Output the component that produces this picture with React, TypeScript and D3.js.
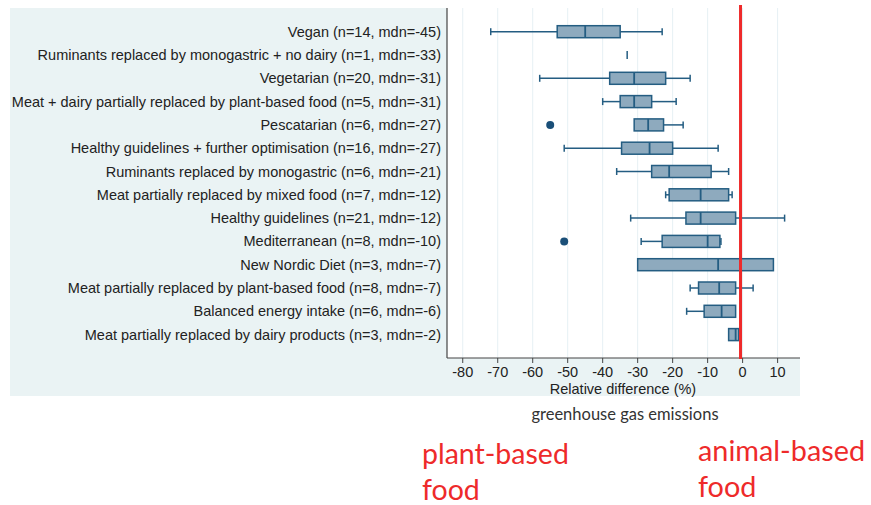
import React from "react";
import * as d3 from "d3";

const categories = [
  "Vegan",
  "Ruminants replaced by monogastric + no dairy",
  "Vegetarian",
  "Meat + dairy partially replaced by plant-based food",
  "Pescatarian",
  "Healthy guidelines + further optimisation",
  "Ruminants replaced by monogastric",
  "Meat partially replaced by mixed food",
  "Healthy guidelines",
  "Mediterranean",
  "New Nordic Diet",
  "Meat partially replaced by plant-based food",
  "Balanced energy intake",
  "Meat partially replaced by dairy products",
];
const nValues = [14, 1, 20, 5, 6, 16, 6, 7, 21, 8, 3, 8, 6, 3];
const mdnValues = [-45, -33, -31, -31, -27, -27, -21, -12, -12, -10, -7, -7, -6, -2];
const whiskerLo = [-72, -33, -58, -40, -31, -51, -36, -22, -32, -29, -30, -15, -16, -4];
const q1Values = [-53, -33, -38, -35, -31, -34.6, -26, -21, -16.2, -23, -30, -12.6, -11, -4];
const medianValues = [-45, -33, -31, -31, -27, -26.6, -21, -12, -12, -10, -7, -6.7, -6, -2];
const q3Values = [-35, -33, -22, -26, -22.6, -20, -9, -4, -2, -6.5, 8.8, -2, -2, -1.1];
const whiskerHi = [-23, -33, -15, -19, -17, -7, -4, -3, 12, -6.2, 8.8, 3, -2, -1.1];
const outlierRows = [4, 9];
const outlierValues = [-55, -51];
const xTicks = [-80, -70, -60, -50, -40, -30, -20, -10, 0, 10];
const refValue = -0.6;

export default function App() {
  const x = d3.scaleLinear().domain([-84.5, 16.4]).range([447, 800]);
  const y = d3.scalePoint<number>().domain(d3.range(categories.length)).range([31.7, 334.6]);
  const boxH = 12;
  const capH = 7;
  const stroke = "#245d82";
  const fill = "#8eaabe";
  const font = "'Liberation Sans', Arial, sans-serif";

  return (
    <div style={{ position: "absolute", left: 0, top: 0 }}>
      <svg width={871} height={505} style={{ display: "block" }}>
        <rect x={0} y={0} width={871} height={505} fill="#ffffff" />
        <rect x={10} y={8} width={790} height={388} fill="#eaf3f4" />
        <rect x={447} y={8} width={353} height={350} fill="#ffffff" />
        {xTicks.map((t) => (
          <line key={"g" + t} x1={x(t)} x2={x(t)} y1={8} y2={358} stroke="#e6f0f4" strokeWidth={1} />
        ))}
        {/* axes */}
        <line x1={447} x2={447} y1={8} y2={358} stroke="#444" strokeWidth={1.2} />
        <line x1={447} x2={800} y1={358} y2={358} stroke="#444" strokeWidth={1.2} />
        {xTicks.map((t) => (
          <g key={"t" + t}>
            <line x1={x(t)} x2={x(t)} y1={358} y2={363} stroke="#444" strokeWidth={1} />
            <text x={x(t)} y={377} textAnchor="middle" fontFamily={font} fontSize={14.5} fill="#222">
              {t}
            </text>
          </g>
        ))}
        <text x={623} y={394} textAnchor="middle" fontFamily={font} fontSize={14.5} fill="#222">
          Relative difference (%)
        </text>
        {categories.map((c, i) => (
          <text key={"l" + i} x={441} y={y(i)! + 5} textAnchor="end" fontFamily={font} fontSize={14.5} fill="#222">
            {`${c} (n=${nValues[i]}, mdn=${mdnValues[i]})`}
          </text>
        ))}
        {categories.map((c, i) => {
          const cy = y(i)!;
          const single = q1Values[i] === q3Values[i];
          if (single) {
            return (
              <line key={"b" + i} x1={x(medianValues[i])} x2={x(medianValues[i])} y1={cy - 4} y2={cy + 4} stroke={stroke} strokeWidth={1.5} />
            );
          }
          return (
            <g key={"b" + i}>
              {whiskerLo[i] < q1Values[i] && (
                <>
                  <line x1={x(whiskerLo[i])} x2={x(q1Values[i])} y1={cy} y2={cy} stroke={stroke} strokeWidth={1.5} />
                  <line x1={x(whiskerLo[i])} x2={x(whiskerLo[i])} y1={cy - capH / 2} y2={cy + capH / 2} stroke={stroke} strokeWidth={1.5} />
                </>
              )}
              {whiskerHi[i] > q3Values[i] && (
                <>
                  <line x1={x(q3Values[i])} x2={x(whiskerHi[i])} y1={cy} y2={cy} stroke={stroke} strokeWidth={1.5} />
                  <line x1={x(whiskerHi[i])} x2={x(whiskerHi[i])} y1={cy - capH / 2} y2={cy + capH / 2} stroke={stroke} strokeWidth={1.5} />
                </>
              )}
              <rect x={x(q1Values[i])} y={cy - boxH / 2} width={x(q3Values[i]) - x(q1Values[i])} height={boxH} fill={fill} stroke={stroke} strokeWidth={1.5} />
              <line x1={x(medianValues[i])} x2={x(medianValues[i])} y1={cy - boxH / 2} y2={cy + boxH / 2} stroke={stroke} strokeWidth={1.8} />
            </g>
          );
        })}
        {outlierRows.map((r, k) => (
          <circle key={"o" + k} cx={x(outlierValues[k])} cy={y(r)!} r={4} fill="#1a4f78" />
        ))}
        <line x1={x(refValue)} x2={x(refValue)} y1={5} y2={359} stroke="#ee2a2a" strokeWidth={3} />
        <text x={625} y={420} textAnchor="middle" fontFamily="Lato, 'Open Sans', sans-serif" fontSize={16.5} fill="#333">
          greenhouse gas emissions
        </text>
        <g fontFamily="Lato, 'Open Sans', sans-serif" fill="#ee2a2a">
          <text x={422} y={464} fontSize={28.5}>plant-based</text>
          <text x={422} y={500} fontSize={28.5}>food</text>
          <text x={698} y={461} fontSize={28.8}>animal-based</text>
          <text x={698} y={497} fontSize={28.8}>food</text>
        </g>
      </svg>
    </div>
  );
}
